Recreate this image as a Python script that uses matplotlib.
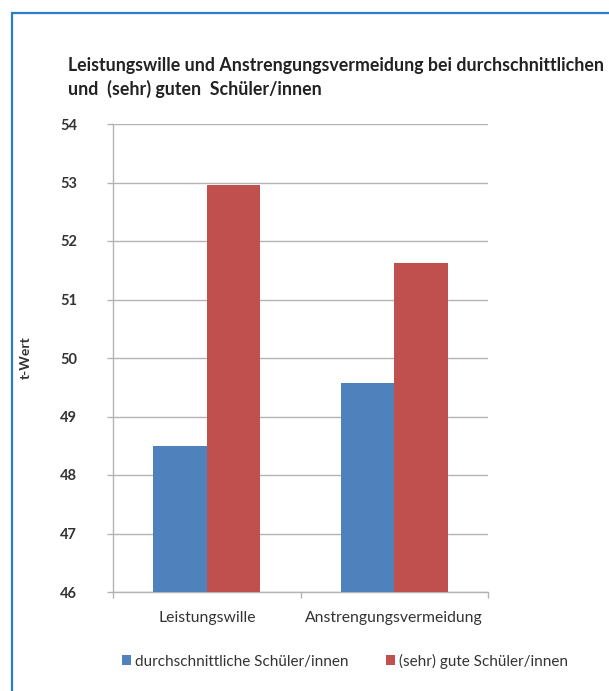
import matplotlib.pyplot as plt
import numpy as np
from matplotlib.patches import Rectangle

categories = ["Leistungswille", "Anstrengungsvermeidung"]
durchschnittlich = [48.5, 49.58]
sehr_gut = [52.95, 51.63]
series_labels = ["durchschnittliche Schüler/innen", "(sehr) gute Schüler/innen"]
y_ticks = [46, 47, 48, 49, 50, 51, 52, 53, 54]

BLUE = "#4f81bd"
RED = "#c0504d"
GRID = "#b3b3b3"
TEXT = "#333333"

plt.rcParams["font.family"] = ["Lato", "DejaVu Sans"]

fig = plt.figure(figsize=(6.09, 6.91), dpi=100)
W, H = 609, 691

# frame around the whole chart
fig.patches.append(Rectangle((12 / W, -0.05), 1.0, 1 - 13 / H + 0.05,
                             transform=fig.transFigure, fill=False,
                             edgecolor="#2c7cc9", linewidth=1.6))

ax = fig.add_axes([113 / W, (H - 592) / H, (488 - 113) / W, (592 - 124) / H])

x = np.arange(len(categories))
w = 1 / 3.5
ax.bar(x - w / 2, [v - 46 for v in durchschnittlich], w, bottom=46, color=BLUE,
       label=series_labels[0], zorder=3)
ax.bar(x + w / 2, [v - 46 for v in sehr_gut], w, bottom=46, color=RED,
       label=series_labels[1], zorder=3)

ax.set_xlim(-0.5, 1.5)
ax.set_ylim(46, 54)
ax.set_yticks(y_ticks)
ax.set_xticks(x)
ax.set_xticklabels(categories, fontsize=11.3, color=TEXT)
ax.set_xticks([-0.5, 0.5, 1.5], minor=True)
ax.tick_params(axis="x", which="major", length=0, pad=14)
ax.tick_params(axis="x", which="minor", length=4, color=GRID, width=1)
ax.tick_params(axis="y", length=4, color=GRID, width=1, labelsize=10.5,
               labelcolor=TEXT, pad=22)
for lbl in ax.get_yticklabels():
    lbl.set_fontweight("bold")

ax.grid(axis="y", color=GRID, linewidth=1, zorder=0)
for side in ["top", "right"]:
    ax.spines[side].set_visible(False)
for side in ["left", "bottom"]:
    ax.spines[side].set_color(GRID)
    ax.spines[side].set_linewidth(1)

ax.set_ylabel("t-Wert", fontsize=10, fontweight="bold", color=TEXT, labelpad=20)

fig.text(68 / W, 1 - 65 / H,
         "Leistungswille und Anstrengungsvermeidung bei durchschnittlichen",
         fontsize=12.8, fontweight="bold", color="#222222", va="center")
fig.text(68 / W, 1 - 89 / H, "und  (sehr) guten  Schüler/innen",
         fontsize=12.8, fontweight="bold", color="#222222", va="center")

fig.legend(loc="center", bbox_to_anchor=(345 / W, 1 - 661 / H), ncol=2,
           frameon=False, fontsize=11, handlelength=0.6, handleheight=0.6,
           handletextpad=0.3, columnspacing=2.4, labelcolor=TEXT)

fig.savefig("out.png", dpi=100)
